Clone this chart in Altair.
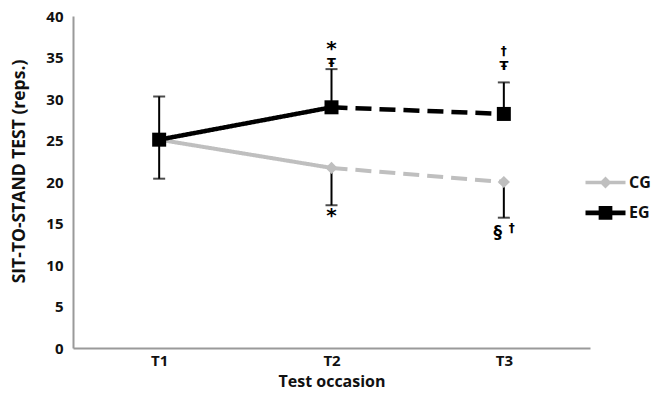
import altair as alt
import pandas as pd

# ---- data ----
groups = ["CG", "EG"]
times = ["T1", "T2", "T3"]
cg_values = [25.1, 21.7, 20.0]
eg_values = [25.1, 29.0, 28.2]

# error bars (from the mean toward one side, T1 both sides)
err_time = ["T1", "T2", "T2", "T3", "T3"]
err_low = [20.4, 29.0, 17.2, 28.2, 15.7]
err_high = [30.3, 33.6, 21.7, 32.0, 20.0]
cap_time = ["T1", "T1", "T2", "T2", "T3", "T3"]
cap_value = [20.4, 30.3, 33.6, 17.2, 32.0, 15.7]

# significance markers
ann_time = ["T2", "T2", "T3", "T3", "T2", "T3", "T3"]
ann_value = [36.0, 34.3, 35.8, 34.0, 15.9, 13.9, 14.4]
ann_text = ["*", "Ŧ", "†", "Ŧ", "*", "§", "†"]
ann_size = [20, 13, 12, 13, 20, 17, 12]
ann_shift = [0, 0, 0, 0, 0, -6, 8]

# ---- tables ----
series = {"CG": cg_values, "EG": eg_values}
pts = pd.DataFrame([
    {"group": g, "time": t, "value": v}
    for g in groups for t, v in zip(times, series[g])
])
seg_rows = []
for g in groups:
    vals = series[g]
    seg_rows += [
        {"group": g, "time": times[0], "value": vals[0], "seg": "solid"},
        {"group": g, "time": times[1], "value": vals[1], "seg": "solid"},
        {"group": g, "time": times[1], "value": vals[1], "seg": "dashed"},
        {"group": g, "time": times[2], "value": vals[2], "seg": "dashed"},
    ]
segs = pd.DataFrame(seg_rows)
errs = pd.DataFrame({"time": err_time, "lo": err_low, "hi": err_high})
caps = pd.DataFrame({"time": cap_time, "value": cap_value})
anns = pd.DataFrame({"time": ann_time, "value": ann_value, "text": ann_text,
                     "size": ann_size, "dx": ann_shift})

FONT = "Open Sans"
GRAY = "#bfbfbf"
xscale = alt.Scale(domain=times, type="point", padding=0.5)
yscale = alt.Scale(domain=[0, 40], nice=False)

X = alt.X("time:N", scale=xscale, title="Test occasion",
          axis=alt.Axis(labelAngle=0, tickSize=0, labelPadding=5,
                        titleY=33, titleBaseline="middle"))
Y = alt.Y("value:Q", scale=yscale, title="SIT-TO-STAND TEST (reps.)",
          axis=alt.Axis(values=list(range(0, 41, 5)), tickSize=0, grid=False,
                        labelPadding=10, titleX=-54, titleY=155,
                        titleBaseline="middle", titleFontSize=17.5))
Xs = alt.X("time:N", scale=xscale)
Ys = alt.Y("value:Q", scale=yscale)

dash = alt.StrokeDash("seg:N", scale=alt.Scale(domain=["solid", "dashed"],
                                               range=[[1, 0], [16, 8]]), legend=None)

cg_line = alt.Chart(segs).transform_filter("datum.group == 'CG'").mark_line(
    strokeWidth=4, color=GRAY).encode(x=X, y=Y, strokeDash=dash)
eg_line = alt.Chart(segs).transform_filter("datum.group == 'EG'").mark_line(
    strokeWidth=4.5, color="black").encode(x=Xs, y=Ys, strokeDash=dash)

rules = alt.Chart(errs).mark_rule(color="black", strokeWidth=2).encode(
    x=Xs, y=alt.Y("lo:Q", scale=yscale), y2="hi:Q")

capticks = alt.Chart(caps).mark_tick(color="black", size=12, thickness=2).encode(
    x=Xs, y=Ys)

cg_pts = alt.Chart(pts).transform_filter("datum.group == 'CG'").mark_point(
    shape="diamond", filled=True, color=GRAY, size=150, opacity=1).encode(x=Xs, y=Ys)
eg_pts = alt.Chart(pts).transform_filter("datum.group == 'EG'").mark_point(
    shape="square", filled=True, color="black", size=196, opacity=1).encode(x=Xs, y=Ys)

texts = alt.Chart(anns).mark_text(font="DejaVu Sans", fontWeight="bold",
                                  color="black").encode(
    x=Xs, y=Ys, text="text:N",
    size=alt.Size("size:Q", scale=None, legend=None),
    xOffset=alt.XOffset("dx:Q", scale=None))

cg_path = "M-1.4,-0.13H1.4V0.13H-1.4Z M0,-0.42L0.42,0L0,0.42L-0.42,0Z"
eg_path = "M-1.4,-0.16H1.4V0.16H-1.4Z M-0.48,-0.48H0.48V0.48H-0.48Z"
leg = alt.Legend(title=None, orient="none", legendX=518, legendY=152,
                 symbolSize=816, symbolStrokeWidth=0, symbolOpacity=1,
                 labelOffset=9, rowPadding=7.4, padding=0,
                 labelFont=FONT, labelFontSize=16,
                 labelFontWeight="bold", labelColor="#111")
legend_layer = alt.Chart(pts).transform_filter("false").mark_point(
    filled=True, opacity=1).encode(
    x=Xs, y=Ys,
    color=alt.Color("group:N", scale=alt.Scale(domain=groups, range=[GRAY, "#000000"]),
                    legend=leg),
    shape=alt.Shape("group:N", scale=alt.Scale(domain=groups, range=[cg_path, eg_path]),
                    legend=leg),
)

chart = alt.layer(cg_line, eg_line, rules, capticks, cg_pts, eg_pts, texts,
                  legend_layer).properties(
    width=517, height=332,
    autosize=alt.AutoSizeParams(type="none"),
    padding={"left": 65, "top": 8, "right": 63, "bottom": 41},
).configure_view(stroke=None).configure_axis(
    domainColor="#9a9a9a", domainWidth=2,
    labelFont=FONT, labelFontSize=15, labelFontWeight="bold", labelColor="#111",
    titleFont=FONT, titleFontSize=16, titleFontWeight="bold", titleColor="#111",
)

chart.save("out.html", embed_options={"renderer": "svg", "actions": False})
